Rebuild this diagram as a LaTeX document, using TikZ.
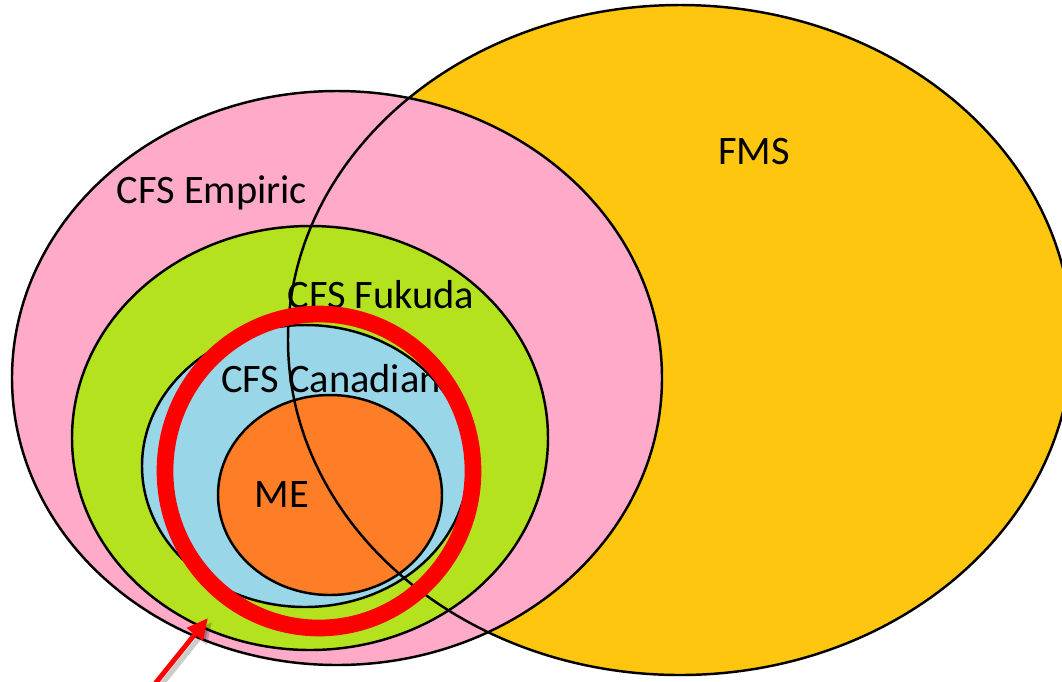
\documentclass[tikz,border=0pt]{standalone}
\usepackage{fontspec}
\setmainfont{Carlito}
\usepackage{tikz}
\usetikzlibrary{arrows.meta,calc,positioning}
\definecolor{fmscol}{RGB}{254,198,14}
\definecolor{empcol}{RGB}{254,170,200}
\definecolor{fukcol}{RGB}{180,226,30}
\definecolor{cancol}{RGB}{152,214,232}
\definecolor{mecol}{RGB}{253,126,38}
\definecolor{markcol}{RGB}{255,0,0}

\begin{document}
\begin{tikzpicture}[x=0.02cm,y=-0.02cm,
  setline/.style={draw=black,line width=1.4pt},
  setlabel/.style={font=\fontsize{23}{27}\selectfont,inner sep=0pt}]
\useasboundingbox (0,0) rectangle (1062,681);
\clip (0,0) rectangle (1062,681);
% fills, back to front
\fill[fmscol] (680,340) ellipse [x radius=392, y radius=335];
\fill[empcol] (337,378) ellipse [x radius=325, y radius=287];
\fill[fukcol] (310,438) ellipse [x radius=238, y radius=212];
\fill[cancol] (305,466) ellipse [x radius=163, y radius=141];
\fill[mecol] (330,495) ellipse [x radius=112, y radius=100];
% outlines on top
\draw[setline] (680,340) ellipse [x radius=392, y radius=335];
\draw[setline] (337,378) ellipse [x radius=325, y radius=287];
\draw[setline] (310,438) ellipse [x radius=238, y radius=212];
\draw[setline] (305,466) ellipse [x radius=163, y radius=141];
\draw[setline] (330,495) ellipse [x radius=112, y radius=100];
% labels
\node[setlabel] (fms) at (754,152) {FMS};
\node[setlabel] (empiric) at (212,193) {CFS Empiric};
\node[setlabel] (fukuda) at (381,295) {CFS Fukuda};
\node[setlabel] (canadian) at (331,379) {CFS Canadian};
\node[setlabel] (me) at (282,495) {ME};
% highlight
\draw[markcol,line width=9.5pt] (319,471) circle [x radius=154, y radius=157];
\coordinate (arrowtail) at (150,690);
\coordinate (arrowtip) at (208,618);
\draw[black,opacity=0.2,line width=2.8pt,-{Triangle[length=12pt,width=11pt]}]
  ($(arrowtail)+(4,4)$) -- ($(arrowtip)+(4,4)$);
\draw[markcol,line width=2.8pt,-{Triangle[length=12pt,width=11pt]}] (arrowtail) -- (arrowtip);
\end{tikzpicture}
\end{document}
